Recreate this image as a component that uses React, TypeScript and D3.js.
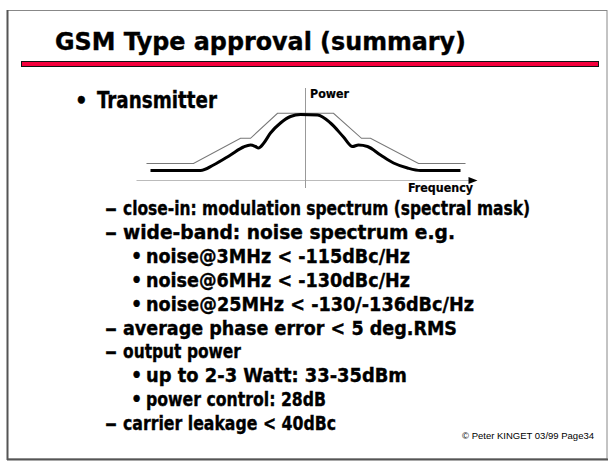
import * as d3 from "d3";

// slide text
const title = "GSM Type approval (summary)";
const topBullet = "Transmitter";
const bodyLines: { level: number; text: string; width: number }[] = [
  { level: 1, text: "close-in: modulation spectrum (spectral mask)", width: 407 },
  { level: 1, text: "wide-band: noise spectrum e.g.", width: 332 },
  { level: 2, text: "noise@3MHz < -115dBc/Hz", width: 264 },
  { level: 2, text: "noise@6MHz < -130dBc/Hz", width: 264 },
  { level: 2, text: "noise@25MHz < -130/-136dBc/Hz", width: 328 },
  { level: 1, text: "average phase error < 5 deg.RMS", width: 334 },
  { level: 1, text: "output power", width: 118 },
  { level: 2, text: "up to 2-3 Watt: 33-35dBm", width: 261 },
  { level: 2, text: "power control: 28dB", width: 180 },
  { level: 1, text: "carrier leakage < 40dBc", width: 213 },
];
const footer = "© Peter KINGET  03/99 Page34";

// spectrum sketch: frequency offset vs power (arbitrary units)
const maskFreq = [-159, -112, -65, -55, -28, 28, 56, 65, 113, 160];
const maskPower = [24.5, 24.5, 49.7, 49.7, 74.7, 74.7, 49.7, 49.7, 24.5, 24.5];

const specFreq = [-155, -105, -92, -75, -62, -55, -50, -47, -42, -35, -25, -15, -5, 12, 25, 38, 47, 53, 62, 75, 88, 102, 115, 155];
const specPower = [17.5, 17.5, 23, 33, 41, 43, 41.5, 40, 44.5, 55, 65, 71.5, 73.5, 73, 65, 51, 41.5, 43, 41.5, 33, 25, 20, 17.5, 17.5];

const axisPower = 7.5;

const W = 612;
const H = 467;
const font = "'DejaVu Sans Condensed', 'DejaVu Sans', sans-serif";

export default function App() {
  const x = d3.scaleLinear().domain([-169, 172]).range([136.5, 477.5]);
  const y = d3.scaleLinear().domain([0, 100]).range([188, 88]);

  const maskLine = d3
    .line<number>()
    .x((_, i) => x(maskFreq[i]))
    .y((d) => y(d));
  const specLine = d3
    .line<number>()
    .x((_, i) => x(specFreq[i]))
    .y((d) => y(d))
    .curve(d3.curveMonotoneX);

  const [f0, f1] = x.domain();
  const ya = y(axisPower);
  const tip = x(f1);

  // bold text, slightly heavier like the original slide
  const heavy = { fontFamily: font, fontWeight: "bold" as const, stroke: "#000", strokeWidth: 0.35 };

  return (
    <svg width={W} height={H} style={{ position: "absolute", left: 0, top: 0, background: "#fff" }}>
      {/* slide frame */}
      <rect x={7.5} y={10.5} width={599.5} height={448.5} fill="none" stroke="#888" strokeWidth={1} />
      <line x1={7.5} y1={10} x2={7.5} y2={460} stroke="#555" strokeWidth={2} />
      <line x1={7} y1={459.5} x2={608} y2={459.5} stroke="#555" strokeWidth={2} />

      {/* title */}
      <text x={55} y={50} {...heavy} fontSize={24.5} textLength={411} lengthAdjust="spacingAndGlyphs">
        {title}
      </text>
      <rect x={21.5} y={61.5} width={577} height={5} fill="#f5003c" stroke="#111" strokeWidth={1} />

      {/* top bullet */}
      <text x={75} y={108} {...heavy} fontSize={22}>
        •
      </text>
      <text x={97} y={108} {...heavy} fontSize={23} textLength={120} lengthAdjust="spacingAndGlyphs">
        {topBullet}
      </text>

      {/* spectrum sketch */}
      <line x1={x(f0)} y1={ya} x2={tip - 6} y2={ya} stroke="#bbb" strokeWidth={1.2} />
      <path d={`M${tip},${ya} L${tip - 9},${ya - 3.5} L${tip - 9},${ya + 3.5} Z`} fill="#000" />
      <line x1={x(0)} y1={y(100)} x2={x(0)} y2={y(0)} stroke="#999" strokeWidth={1} />
      <path d={maskLine(maskPower) ?? ""} fill="none" stroke="#777" strokeWidth={1.1} />
      <path d={specLine(specPower) ?? ""} fill="none" stroke="#000" strokeWidth={3} strokeLinejoin="round" />
      <text x={310} y={98} {...heavy} strokeWidth={0.2} fontSize={12.5} textLength={39} lengthAdjust="spacingAndGlyphs">
        Power
      </text>
      <text x={408} y={192} {...heavy} strokeWidth={0.2} fontSize={13} textLength={65} lengthAdjust="spacingAndGlyphs">
        Frequency
      </text>

      {/* body */}
      {bodyLines.map((l, i) => {
        const base = 215 + i * 23.9;
        const tx = l.level === 1 ? 123 : 146;
        return (
          <g key={i}>
            {l.level === 1 ? (
              <text x={105} y={base} {...heavy} fontSize={19.5} textLength={12} lengthAdjust="spacingAndGlyphs">
                –
              </text>
            ) : (
              <text x={131} y={base} {...heavy} fontSize={19.5}>
                •
              </text>
            )}
            <text x={tx} y={base} {...heavy} fontSize={19.5} textLength={l.width} lengthAdjust="spacingAndGlyphs">
              {l.text}
            </text>
          </g>
        );
      })}

      {/* footer */}
      <text
        x={462}
        y={439}
        fontFamily="'Liberation Sans', Arial, sans-serif"
        fontSize={9}
        textLength={132}
        lengthAdjust="spacingAndGlyphs"
      >
        {footer}
      </text>
    </svg>
  );
}
